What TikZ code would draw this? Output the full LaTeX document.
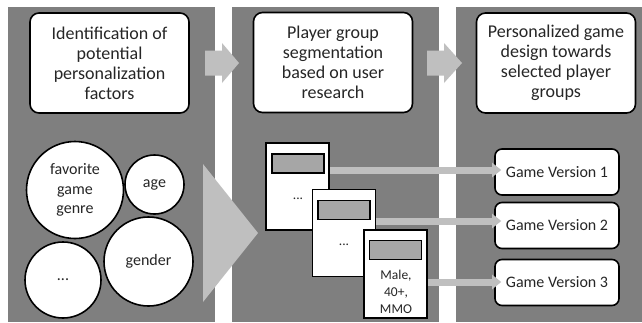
\documentclass[tikz,border=0pt]{standalone}
\usepackage{fontspec}
\setmainfont{Carlito}
\usetikzlibrary{arrows.meta}
\definecolor{panelgray}{RGB}{127,127,127}
\definecolor{lightgraytwo}{RGB}{191,191,191}
\definecolor{labelgray}{RGB}{166,166,166}
\definecolor{txt}{RGB}{38,38,38}
\begin{document}
\begin{tikzpicture}[x=1pt,y=-1pt,
  panel/.style={fill=panelgray,draw=none},
  blockarrow/.style={fill=lightgraytwo,draw=none},
  topbox/.style={draw=black,line width=1.6pt,fill=white,rounded corners=9pt,
    minimum width=159pt,minimum height=100pt,align=center,inner sep=0pt,
    font=\fontsize{18}{20}\selectfont,text=txt},
  factor/.style={circle,draw=black,line width=1.6pt,fill=white,inner sep=0pt,
    align=center,font=\fontsize{16}{19.5}\selectfont,text=txt},
  card/.style={draw=black,line width=1.6pt,fill=white,minimum width=63pt,
    minimum height=87pt,inner sep=0pt},
  cardlabel/.style={draw=black,line width=1.4pt,fill=labelgray,minimum width=52pt,
    minimum height=19pt,inner sep=0pt},
  cardtext/.style={align=center,inner sep=0pt,font=\fontsize{13.5}{17}\selectfont,text=txt},
  gvbox/.style={draw=black,line width=1.6pt,fill=white,rounded corners=7pt,
    minimum width=124pt,minimum height=46pt,inner sep=0pt,
    font=\fontsize{16}{19}\selectfont,text=txt},
  conn/.style={draw=lightgraytwo,line width=7pt,-{Triangle[length=9pt,width=14pt]}}
]
\useasboundingbox (0,0) rectangle (642,322);
\fill[white] (0,0) rectangle (642,322);
% panels
\path[panel] (8,7) rectangle (215,322);
\path[panel] (232,7) rectangle (439,322);
\path[panel] (456,7) rectangle (642,322);
% block arrows between panels
\path[blockarrow] (205,50.5) -- (222,50.5) -- (222,43) -- (239,63) -- (222,83) -- (222,75.5) -- (205,75.5) -- cycle;
\path[blockarrow] (427,50.5) -- (444,50.5) -- (444,43) -- (462,63) -- (444,83) -- (444,75.5) -- (427,75.5) -- cycle;
% big triangle
\path[blockarrow] (203,164) -- (258,233) -- (203,302) -- cycle;
% top boxes
\node[topbox] (t1) at (109.5,63) {Identification of\\potential\\personalization\\factors};
\node[topbox] (t2) at (333,62.5) {Player group\\segmentation\\based on user\\research};
\node[topbox] (t3) at (556,63) {Personalized game\\design towards\\selected player\\groups};
% factor circles
\node[factor,minimum size=97pt] (fav) at (75,190) {favorite\\game\\genre};
\node[factor,minimum size=59pt] (age) at (154.5,184.5) {age};
\node[factor,minimum size=76pt] (dots) at (63,280) {...};
\node[factor,minimum size=89pt] (gender) at (148.5,261.5) {gender};
% cards
\node[card] (c1) at (297.5,186.5) {};
\node[cardlabel] (l1) at (298,163.5) {};
\node[cardtext] (x1) at (298,199) {...};
\node[card] (c2) at (344,233) {};
\node[cardlabel] (l2) at (344,210) {};
\node[cardtext] (x2) at (344,245) {...};
\node[card,minimum height=88pt] (c3) at (395.5,274) {};
\node[cardlabel] (l3) at (395.5,250) {};
\node[cardtext] (x3) at (396,292) {Male,\\40+,\\MMO};
% game versions
\node[gvbox] (g1) at (557,172) {Game Version 1};
\node[gvbox] (g2) at (557,225.5) {Game Version 2};
\node[gvbox] (g3) at (557,282.5) {Game Version 3};
% connectors
\draw[conn] (c1.east |- 0,170) -- ([xshift=7pt]g1.west |- 0,170);
\draw[conn] (c2.east |- 0,221) -- ([xshift=7pt]g2.west |- 0,221);
\draw[conn] (c3.east |- 0,282) -- ([xshift=7pt]g3.west |- 0,282);
\end{tikzpicture}
\end{document}
